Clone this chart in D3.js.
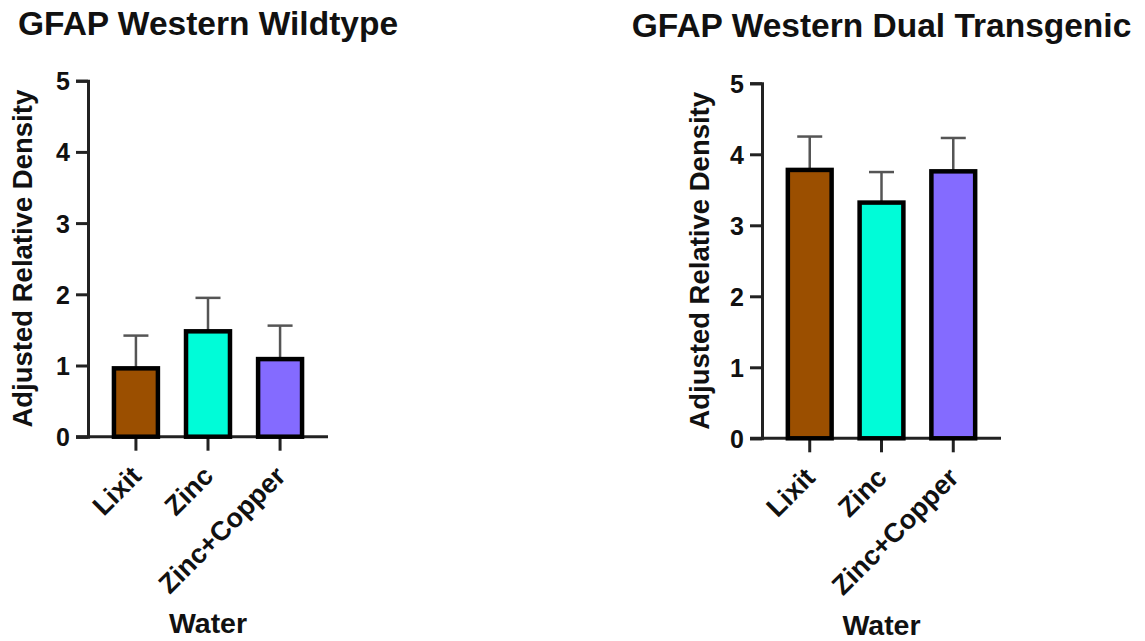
<!DOCTYPE html>
<html>
<head>
<meta charset="utf-8">
<script src="https://cdn.jsdelivr.net/npm/d3@7"></script>
<style>
  html, body { margin: 0; padding: 0; background: #fff; }
  svg text { font-family: "Liberation Sans", Arial, Helvetica, sans-serif; font-weight: bold; fill: #111; }
</style>
</head>
<body>
<svg id="chart" width="1145" height="641"></svg>
<script>
// ---- data ----
const categories = ["Lixit", "Zinc", "Zinc+Copper"];
const wildtypeMeans = [0.96, 1.48, 1.09];
const wildtypeSEM = [0.46, 0.47, 0.47];
const dualMeans = [3.78, 3.32, 3.76];
const dualSEM = [0.47, 0.43, 0.47];
const yTicks = [0, 1, 2, 3, 4, 5];
const barColors = ["#9B4F00", "#00FCD8", "#846BFF"];
const titles = ["GFAP Western Wildtype", "GFAP Western Dual Transgenic"];
const yLabel = "Adjusted Relative Density";
const xLabel = "Water";

const svg = d3.select("#chart");

function panel(opts) {
  const { left, right, top, bottom, title, means, sems, titleY, xLabelY, yLabelX } = opts;
  const g = svg.append("g");
  const x = d3.scaleBand().domain(categories).range([left, right]).paddingInner(0.39).paddingOuter(0.36);
  const y = d3.scaleLinear().domain([0, 5]).range([bottom, top]);

  // title
  g.append("text").attr("x", (left + right) / 2).attr("y", titleY)
    .attr("text-anchor", "middle").style("font-size", "33.5px").text(title);

  // y axis
  const ya = g.append("g").attr("transform", `translate(${left},0)`)
    .call(d3.axisLeft(y).tickValues(yTicks).tickFormat(d3.format("d")).tickSize(12).tickPadding(6));
  ya.select(".domain").attr("stroke", "#222").attr("stroke-width", 3);
  ya.selectAll(".tick line").attr("stroke", "#222").attr("stroke-width", 3);
  ya.selectAll(".tick text").style("font-size", "25px").attr("font-family", null).attr("fill", "#111").attr("dy", "0.36em");

  // x axis
  const xa = g.append("g").attr("transform", `translate(0,${bottom})`)
    .call(d3.axisBottom(x).tickSize(14).tickSizeOuter(0));
  xa.select(".domain").attr("stroke", "#222").attr("stroke-width", 3)
    .attr("d", `M${left - 12},0H${right}`);
  xa.selectAll(".tick line").attr("stroke", "#222").attr("stroke-width", 3);
  xa.selectAll(".tick text").remove();
  xa.selectAll(".tick").append("text")
    .attr("transform", "translate(7,41) rotate(-45)")
    .attr("text-anchor", "end")
    .style("font-size", "27px")
    .attr("fill", "#111")
    .text(d => d);

  const data = categories.map((c, i) => ({ c, m: means[i], s: sems[i], color: barColors[i] }));

  // error bars (upper only)
  const capW = 25;
  const eb = g.append("g");
  eb.selectAll("line.v").data(data).join("line")
    .attr("x1", d => x(d.c) + x.bandwidth() / 2).attr("x2", d => x(d.c) + x.bandwidth() / 2)
    .attr("y1", d => y(d.m)).attr("y2", d => y(d.m + d.s))
    .attr("stroke", "#555").attr("stroke-width", 2.5);
  eb.selectAll("line.c").data(data).join("line")
    .attr("x1", d => x(d.c) + x.bandwidth() / 2 - capW / 2).attr("x2", d => x(d.c) + x.bandwidth() / 2 + capW / 2)
    .attr("y1", d => y(d.m + d.s)).attr("y2", d => y(d.m + d.s))
    .attr("stroke", "#555").attr("stroke-width", 2.5);

  // bars
  g.append("g").selectAll("rect").data(data).join("rect")
    .attr("x", d => x(d.c)).attr("width", x.bandwidth())
    .attr("y", d => y(d.m)).attr("height", d => y(0) - y(d.m))
    .attr("fill", d => d.color).attr("stroke", "#000").attr("stroke-width", 4.5);

  // y label
  g.append("text").attr("transform", `translate(${yLabelX},${(top + bottom) / 2}) rotate(-90)`)
    .attr("text-anchor", "middle").style("font-size", "27.5px").text(yLabel);

  // x label
  g.append("text").attr("x", (left + right) / 2).attr("y", xLabelY)
    .attr("text-anchor", "middle").style("font-size", "28.5px").text(xLabel);
}

panel({ left: 88, right: 328, top: 80.7, bottom: 436.7, title: titles[0], means: wildtypeMeans, sems: wildtypeSEM,
        titleY: 35, xLabelY: 633, yLabelX: 32 });
panel({ left: 762, right: 1001, top: 83.3, bottom: 438.3, title: titles[1], means: dualMeans, sems: dualSEM,
        titleY: 37, xLabelY: 635, yLabelX: 709 });
</script>
</body>
</html>
